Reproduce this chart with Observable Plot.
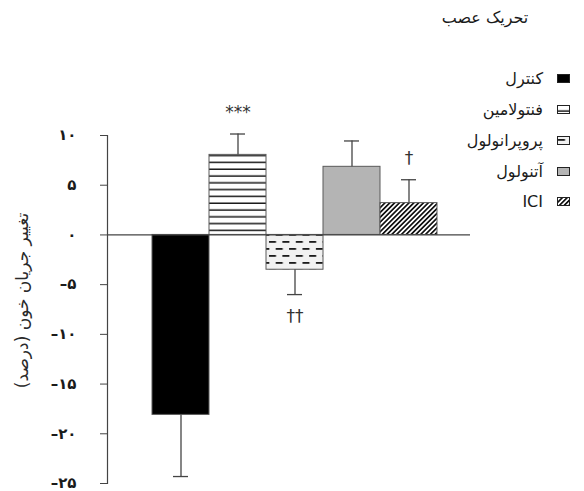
<!DOCTYPE html>
<html><head><meta charset="utf-8">
<script src="https://cdn.jsdelivr.net/npm/d3@7"></script>
<script src="https://cdn.jsdelivr.net/npm/@observablehq/plot@0.6"></script>
<style>
body{margin:0;background:#fff;}
#wrap{position:relative;width:584px;height:491px;overflow:hidden;font-family:"DejaVu Sans",sans-serif;color:#1a1a1a;}
#title{position:absolute;left:435px;top:8px;width:100px;text-align:center;font-size:16px;direction:rtl;}
.lg{position:absolute;right:14px;height:20px;display:flex;align-items:center;direction:rtl;gap:14px;font-size:16px;white-space:nowrap;}
.lg svg{display:block;}
</style></head><body>
<svg width="0" height="0" style="position:absolute">
  <defs>
    <pattern id="pHoriz" patternUnits="userSpaceOnUse" width="10" height="6.8">
      <rect width="10" height="6.8" fill="#fff"/>
      <rect y="5.3" width="10" height="1.5" fill="#1a1a1a"/>
    </pattern>
    <pattern id="pDash" patternUnits="userSpaceOnUse" width="13.4" height="14">
      <rect width="13.4" height="14" fill="#f1f1f1"/>
      <rect x="1" y="3" width="7" height="1.8" fill="#1a1a1a"/>
      <rect x="7.7" y="10" width="7" height="1.8" fill="#1a1a1a"/>
      <rect x="-5.7" y="10" width="7" height="1.8" fill="#1a1a1a"/>
    </pattern>
    <pattern id="pDiag" patternUnits="userSpaceOnUse" width="3.4" height="6" patternTransform="rotate(45)">
      <rect width="3.4" height="6" fill="#fff"/>
      <rect width="1.7" height="6" fill="#111"/>
    </pattern>
  </defs>
</svg>
<div id="wrap"></div>
<script>
// ---- data ----
const groups = ["کنترل", "فنتولامین", "پروپرانولول", "آتنولول", "ICI"];
const values = [-18.1, 8.05, -3.5, 6.85, 3.2];
const errors = [6.2, 2.1, 2.5, 2.6, 2.35];
const signif = ["", "***", "††", "", "†"];
const yTicks = [10, 5, 0, -5, -10, -15, -20, -25];
const titleText = "تحریک عصب";
const yLabel = "تغییر جریان خون (درصد)";

// ---- styles ----
const fills = ["#000", "url(#pHoriz)", "url(#pDash)", "#b4b4b4", "url(#pDiag)"];
const faDigits = "۰۱۲۳۴۵۶۷۸۹";
const fa = n => String(Math.abs(n)).replace(/\d/g, c => faDigits[+c]);
const fmt = d => (d < 0 ? "–" : "") + fa(d);

const data = groups.map((g, i) => ({
  group: g, value: values[i], err: errors[i],
  end: values[i] + Math.sign(values[i]) * errors[i], mark: signif[i]
}));

const W = 584, H = 491;
const plot = Plot.plot({
  width: W, height: H,
  marginTop: 135, marginBottom: 8, marginLeft: 107, marginRight: 114,
  x: {domain: groups, range: [152, 437], padding: 0, axis: null},
  y: {domain: [-25, 10], axis: null},
  color: {domain: groups, range: fills},
  style: {background: "transparent", fontFamily: "DejaVu Sans, sans-serif", color: "#1a1a1a"},
  marks: [
    Plot.barY(data, {x: "group", y: "value", fill: "group", stroke: "#5a5a5a", strokeWidth: 1}),
    Plot.ruleY([0], {stroke: "#444", strokeWidth: 1.2}),
    Plot.frame({anchor: "left", stroke: "#444", strokeWidth: 1.2}),
    Plot.axisY(yTicks, {tickSize: 7, tickPadding: 24, tickFormat: fmt, fontSize: 15, fontWeight: "bold", label: null, stroke: "#444"}),
    Plot.text([yLabel], {frameAnchor: "left", textAnchor: "middle", rotate: -90, dx: -85, dy: -9, fontSize: 17, fill: "#2a2a2a"}),
    Plot.ruleX(data, {x: "group", y1: "value", y2: "end", stroke: "#444", strokeWidth: 1.3}),
    Plot.tickY(data, {x: "group", y: "end", insetLeft: 21, insetRight: 21, stroke: "#444", strokeWidth: 1.3}),
    Plot.text(data, {filter: d => d.mark && d.value > 0, x: "group", y: "end", text: "mark", dy: -21, fontSize: 17, fontWeight: d => d.mark === "***" ? "bold" : "normal", fill: "#333"}),
    Plot.text(data, {filter: d => d.mark && d.value < 0, x: "group", y: "end", text: "mark", dy: 22, fontSize: 17, fill: "#333"})
  ]
});

const wrap = document.getElementById("wrap");
wrap.appendChild(plot);
const t = document.createElement("div");
t.id = "title"; t.textContent = titleText; wrap.appendChild(t);

const rowTops = [68, 99, 130, 161, 191];
groups.forEach((g, i) => {
  const row = document.createElement("div");
  row.className = "lg";
  row.style.top = rowTops[i] + "px";
  const ns = "http://www.w3.org/2000/svg";
  const s = document.createElementNS(ns, "svg");
  s.setAttribute("width", 13); s.setAttribute("height", 9);
  const r = document.createElementNS(ns, "rect");
  r.setAttribute("x", 0.5); r.setAttribute("y", 0.5); r.setAttribute("width", 12); r.setAttribute("height", 8);
  r.setAttribute("fill", fills[i]); r.setAttribute("stroke", "#222"); r.setAttribute("stroke-width", 1);
  s.appendChild(r);
  row.appendChild(s);
  const sp = document.createElement("span");
  sp.textContent = g;
  row.appendChild(sp);
  wrap.appendChild(row);
});
</script>
</body></html>
